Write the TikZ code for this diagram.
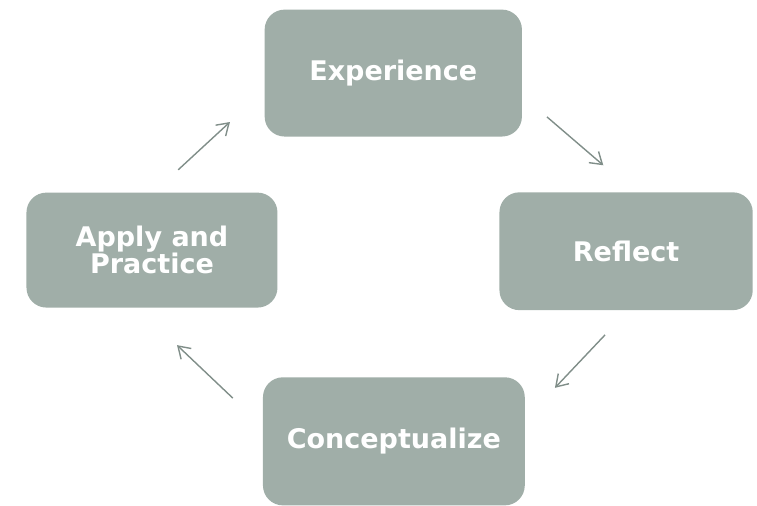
\documentclass[tikz,border=0pt]{standalone}
\usepackage{fontspec}
\setsansfont{DejaVu Sans}
\usetikzlibrary{arrows.meta}
\definecolor{boxgrey}{RGB}{160,174,168}
\definecolor{arrowgrey}{RGB}{128,142,137}

\begin{document}
\begin{tikzpicture}[
etape/.style={rounded corners=0.35cm, fill=boxgrey, text=white,
  font=\sffamily\bfseries\fontsize{13.5}{11.5}\selectfont, align=center,
  minimum width=4.5cm, minimum height=2.1cm},
fleche/.style={-{Straight Barb[length=2mm,width=2.6mm]}, arrowgrey, line width=0.7pt}
]

% Cadre
\useasboundingbox
(0,0)
rectangle
(13.30,8.874);

% Etapes
\node[etape, minimum width=4.52cm, minimum height=2.23cm]
(experience) at (6.91,7.59)
{Experience};

\node[etape, minimum width=4.45cm, minimum height=2.07cm]
(reflect) at (11.00,4.46)
{Reflect};

\node[etape, minimum width=4.6cm, minimum height=2.25cm]
(conceptualize) at (6.92,1.12)
{Conceptualize};

\node[etape, minimum width=4.41cm, minimum height=2.02cm]
(apply) at (2.67,4.48)
{Apply and\\[-1pt]Practice};

% Extremites des fleches
\coordinate (a1) at (3.13,5.89);
\coordinate (b1) at (4.04,6.73);

\coordinate (a2) at (9.61,6.82);
\coordinate (b2) at (10.60,5.97);

\coordinate (a3) at (10.63,2.99);
\coordinate (b3) at (9.75,2.06);

\coordinate (a4) at (4.09,1.88);
\coordinate (b4) at (3.11,2.81);

% Fleches
\draw[fleche]
(a1)
--
(b1);

\draw[fleche]
(a2)
--
(b2);

\draw[fleche]
(a3)
--
(b3);

\draw[fleche]
(a4)
--
(b4);

\end{tikzpicture}
\end{document}
